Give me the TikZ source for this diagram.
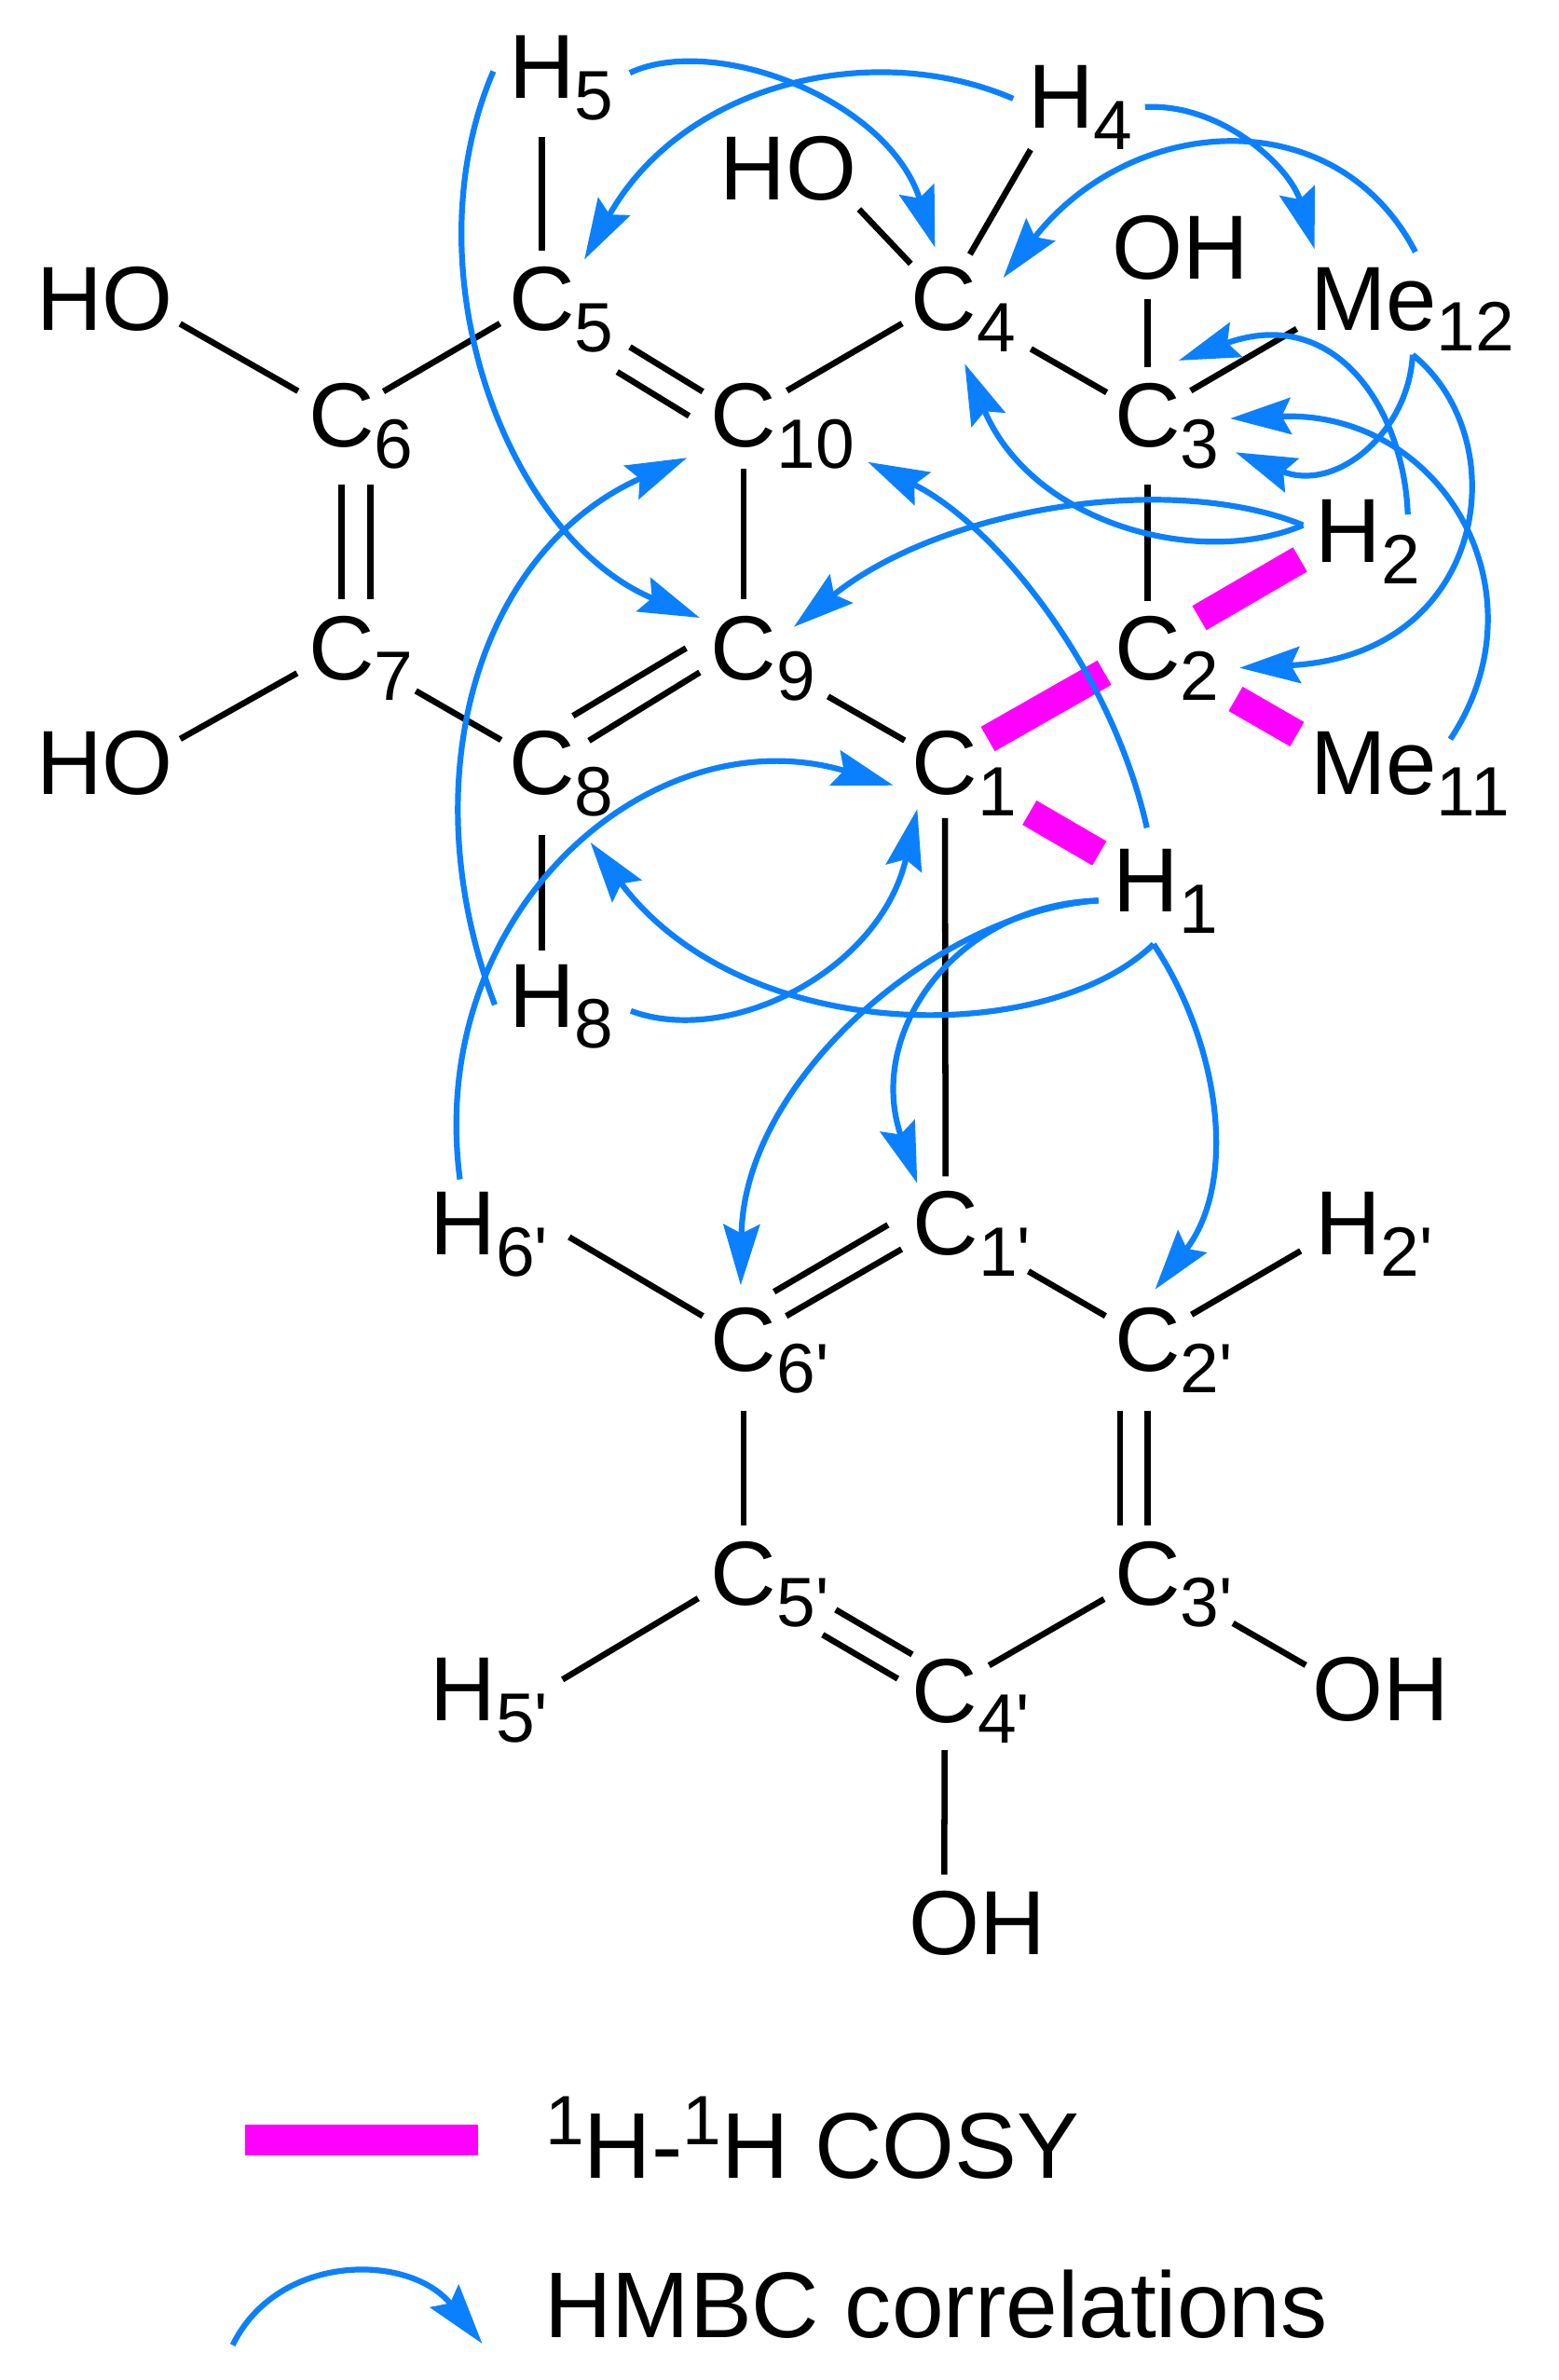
\documentclass[tikz,border=0pt]{standalone}
\usepackage{fontspec}
\usepackage{tikz}
\usetikzlibrary{arrows.meta}
\newfontfamily\labelfont{Liberation Sans}
\definecolor{hmbcblue}{HTML}{0A80FF}
\definecolor{cosypink}{HTML}{FF00FF}
\newcommand{\subs}[1]{\rlap{\smash{\raisebox{-14pt}{\fontsize{46pt}{46pt}\selectfont #1}}}}
\newcommand{\sups}[1]{\raisebox{22pt}{\fontsize{46pt}{46pt}\selectfont #1}}
\tikzset{
  atom/.style={inner sep=0pt, font=\labelfont\fontsize{60pt}{60pt}\selectfont},
  legend/.style={inner sep=0pt, anchor=base west, font=\labelfont\fontsize{61.5pt}{61.5pt}\selectfont},
  bond/.style={draw=black, line width=4pt},
  cosy/.style={draw=cosypink, line width=18.5pt},
  hmbc/.style={draw=hmbcblue, line width=3.8pt, -{Stealth[length=40pt,width=24pt,inset=6pt]}},
  gaps/.style 2 args={shorten <=#1pt, shorten >=#2pt}
}

\begin{document}
\begin{tikzpicture}[x=1pt,y=-1pt]
\useasboundingbox (0,0) rectangle (1027,1568);
% atoms
\node[atom] (H5) at (357,44) {H\subs{5}};
\node[atom] (H4) at (699,64) {H\subs{4}};
\node[atom] (HO4) at (519.5,111) {HO};
\node[atom] (OH3) at (778,163) {OH};
\node[atom] (HO6) at (69,197) {HO};
\node[atom] (C5) at (357,197) {C\subs{5}};
\node[atom] (C4) at (622,197) {C\subs{4}};
\node[atom] (Me12) at (905,197) {Me\subs{12}};
\node[atom] (C6) at (225,274) {C\subs{6}};
\node[atom] (C10) at (490,274) {C\subs{10}};
\node[atom] (C3) at (756,274) {C\subs{3}};
\node[atom] (H2) at (888.5,350) {H\subs{2}};
\node[atom] (C7) at (225,427) {C\subs{7}};
\node[atom] (C9) at (490,427) {C\subs{9}};
\node[atom] (C2) at (756,427) {C\subs{2}};
\node[atom] (HO7) at (69,503) {HO};
\node[atom] (C8) at (357,503) {C\subs{8}};
\node[atom] (C1) at (622.5,503) {C\subs{1}};
\node[atom] (Me11) at (905,503) {Me\subs{11}};
\node[atom] (H1) at (755,580) {H\subs{1}};
\node[atom] (H8) at (357,656) {H\subs{8}};
\node[atom] (H6p) at (305,806) {H\subs{6'}};
\node[atom] (C1p) at (623,806) {C\subs{1'}};
\node[atom] (H2p) at (888,806) {H\subs{2'}};
\node[atom] (C6p) at (490,883) {C\subs{6'}};
\node[atom] (C2p) at (756,883) {C\subs{2'}};
\node[atom] (C5p) at (490,1037) {C\subs{5'}};
\node[atom] (C3p) at (756,1037) {C\subs{3'}};
\node[atom] (H5p) at (305,1113) {H\subs{5'}};
\node[atom] (C4p) at (622.5,1114) {C\subs{4'}};
\node[atom] (OH3p) at (910,1113) {OH};
\node[atom] (OH4p) at (644,1267) {OH};

% bonds
\draw[bond,gaps={46}{32}] (H5.center) -- (C5.center);
\draw[bond,gaps={32}{32}] (C5.center) -- (C6.center);
\draw[bond,gaps={33}{33}] ([xshift=21pt]HO6.center) -- (C6.center);
\draw[bond] ([shift={(58,31.6)}]C5.center) -- ([shift={(-27,-16)}]C10.center);
\draw[bond] ([shift={(49.6,48)}]C5.center) -- ([shift={(-36,0)}]C10.center);
\draw[bond,gaps={37}{32}] ([xshift=21pt]HO4.center) -- (C4.center);
\draw[bond,gaps={34}{40}] (C4.center) -- (H4.center);
\draw[bond,gaps={33}{32}] (C10.center) -- (C4.center);
\draw[bond,gaps={66}{31}] (C4.center) -- (C3.center);
\draw[bond,gaps={34}{32}] ([xshift=-22pt]OH3.center) -- (C3.center);
\draw[bond,gaps={33}{39}] (C3.center) -- ([xshift=-17pt]Me12.center);
\draw[bond,gaps={35}{32}] (C10.center) -- (C9.center);
\draw[bond,gaps={45.5}{31}] (C3.center) -- (C2.center);
\draw[bond,gaps={64}{30.5}] (C9.center) -- (C1.center);
\draw[bond,gaps={45.5}{32}] (C6.center) -- (C7.center);
\draw[bond,gaps={45.5}{32}] ([xshift=19pt]C6.center) -- ([xshift=19pt]C7.center);
\draw[bond,gaps={33.6}{33}] (C7.center) -- ([xshift=21pt]HO7.center);
\draw[bond,gaps={56.5}{31}] (C7.center) -- (C8.center);
\draw[bond] ([shift={(20.5,-31.4)}]C8.center) -- ([shift={(-38,0)}]C9.center);
\draw[bond] ([shift={(31,-15)}]C8.center) -- ([shift={(-29,16)}]C9.center);
\draw[bond,gaps={47}{30}] (C8.center) -- (H8.center);
\draw[bond,gaps={36}{31}] (C1.center) -- (C1p.center);
\draw[bond] ([shift={(70,9)}]H6p.center) -- ([shift={(-27,-16)}]C6p.center);
\draw[bond] ([shift={(-38,1)}]C1p.center) -- ([shift={(20,-32)}]C6p.center);
\draw[bond] ([shift={(-29,17)}]C1p.center) -- ([shift={(28,-16)}]C6p.center);
\draw[bond,gaps={63}{32}] (C1p.center) -- (C2p.center);
\draw[bond,gaps={33.6}{36}] (C2p.center) -- (H2p.center);
\draw[bond,gaps={46.5}{32}] (C6p.center) -- (C5p.center);
\draw[bond,gaps={46.5}{32}] (C2p.center) -- (C3p.center);
\draw[bond,gaps={46.5}{32}] ([xshift=-18pt]C2p.center) -- ([xshift=-18pt]C3p.center);
\draw[bond] ([shift={(-30,16)}]C5p.center) -- ([shift={(65.6,-6.5)}]H5p.center);
\draw[bond] ([shift={(60.6,23.5)}]C5p.center) -- ([shift={(-21.5,-24)}]C4p.center);
\draw[bond] ([shift={(52,40)}]C5p.center) -- ([shift={(-31,-8)}]C4p.center);
\draw[bond,gaps={33.6}{33}] (C4p.center) -- (C3p.center);
\draw[bond,gaps={65}{32}] (C3p.center) -- ([xshift=-22pt]OH3p.center);
\draw[bond,gaps={39}{32}] (C4p.center) -- ([xshift=-22pt]OH4p.center);

% COSY
\draw[cosy,gaps={39.5}{37}] (C2.center) -- (H2.center);
\draw[cosy,gaps={32.6}{32.7}] (C1.center) -- (C2.center);
\draw[cosy,gaps={67}{38.6}] (C2.center) -- ([xshift=-17pt]Me11.center);
\draw[cosy,gaps={64.5}{35.5}] (C1.center) -- (H1.center);

% HMBC
\draw[hmbc] ([shift={(58,4)}]H5.center) .. controls (470,22) and (585,65) .. ([shift={(-6,-34)}]C4.center);
\draw[hmbc] ([shift={(-31.5,1)}]H4.center) .. controls (575,25) and (450,55) .. ([shift={(28,-26)}]C5.center);
\draw[hmbc] ([shift={(55.4,6.5)}]H4.center) .. controls (805,68) and (850,110) .. ([shift={(-39,-33)}]Me12.center);
\draw[hmbc] ([shift={(27.5,-31)}]Me12.center) .. controls (880,65) and (745,75) .. ([shift={(39,-14)}]C4.center);
\draw[hmbc] ([shift={(-30,-4)}]H2.center) .. controls (770,310) and (620,335) .. ([shift={(33,-14)}]C9.center);
\draw[hmbc] ([shift={(-30,-4)}]H2.center) .. controls (790,375) and (680,345) .. ([shift={(13.6,42.6)}]C4.center);
\draw[hmbc] ([shift={(39,-11)}]H2.center) .. controls (925,270) and (880,200) .. ([shift={(20.6,-36.5)}]C3.center);
\draw[hmbc] ([shift={(25.7,36.7)}]Me12.center) .. controls (928,285) and (880,325) .. ([shift={(58,24)}]C3.center);
\draw[hmbc] ([shift={(50.5,-16)}]Me11.center) .. controls (1020,390) and (950,270) .. ([shift={(54.5,1.7)}]C3.center);
\draw[hmbc] ([shift={(25.7,36.7)}]Me12.center) .. controls (1000,290) and (980,432) .. ([shift={(60.6,13)}]C2.center);
\draw[hmbc] ([shift={(-32,3)}]H5.center) .. controls (268,180) and (335,355) .. ([shift={(-29,-20)}]C9.center);
\draw[hmbc] ([shift={(-31,6)}]H8.center) .. controls (270,515) and (314,363) .. ([shift={(-37.4,27.6)}]C10.center);
\draw[hmbc] ([shift={(0.6,-34.6)}]H1.center) .. controls (732,440) and (655,345) .. ([shift={(81.8,30.4)}]C10.center);
\draw[hmbc] ([shift={(-2,-29)}]H6p.center) .. controls (280,600) and (430,470) .. ([shift={(-33.9,14.4)}]C1.center);
\draw[hmbc] ([shift={(58.6,10)}]H8.center) .. controls (480,690) and (580,640) .. ([shift={(-18.2,30)}]C1.center);
\draw[hmbc] ([shift={(5,42)}]H1.center) .. controls (690,690) and (490,690) .. ([shift={(32,52)}]C8.center);
\draw[hmbc] ([shift={(-31.3,13.3)}]H1.center) .. controls (620,600) and (490,710) .. ([shift={(-2,-36.3)}]C6p.center);
\draw[hmbc] ([shift={(-31.3,13.3)}]H1.center) .. controls (630,596) and (570,680) .. ([shift={(-18.7,-26.4)}]C1p.center);
\draw[hmbc] ([shift={(5,42)}]H1.center) .. controls (805,690) and (815,780) .. ([shift={(5,-33.5)}]C2p.center);

% legend
\coordinate (barL) at (161.5,1410);
\coordinate (barR) at (315,1410);
\draw[cosy,line width=20pt] (barL) -- (barR);
\node[legend] (cosylabel) at (359,1435) {\sups{1}H-\sups{1}H COSY};
\coordinate (arcL) at (153.3,1545);
\coordinate (arcR) at (317.7,1544);
\draw[hmbc] (arcL) .. controls (183,1484) and (270,1484) .. (arcR);
\node[legend] (hmbclabel) at (358.5,1540) {HMBC correlations};
\end{tikzpicture}
\end{document}
